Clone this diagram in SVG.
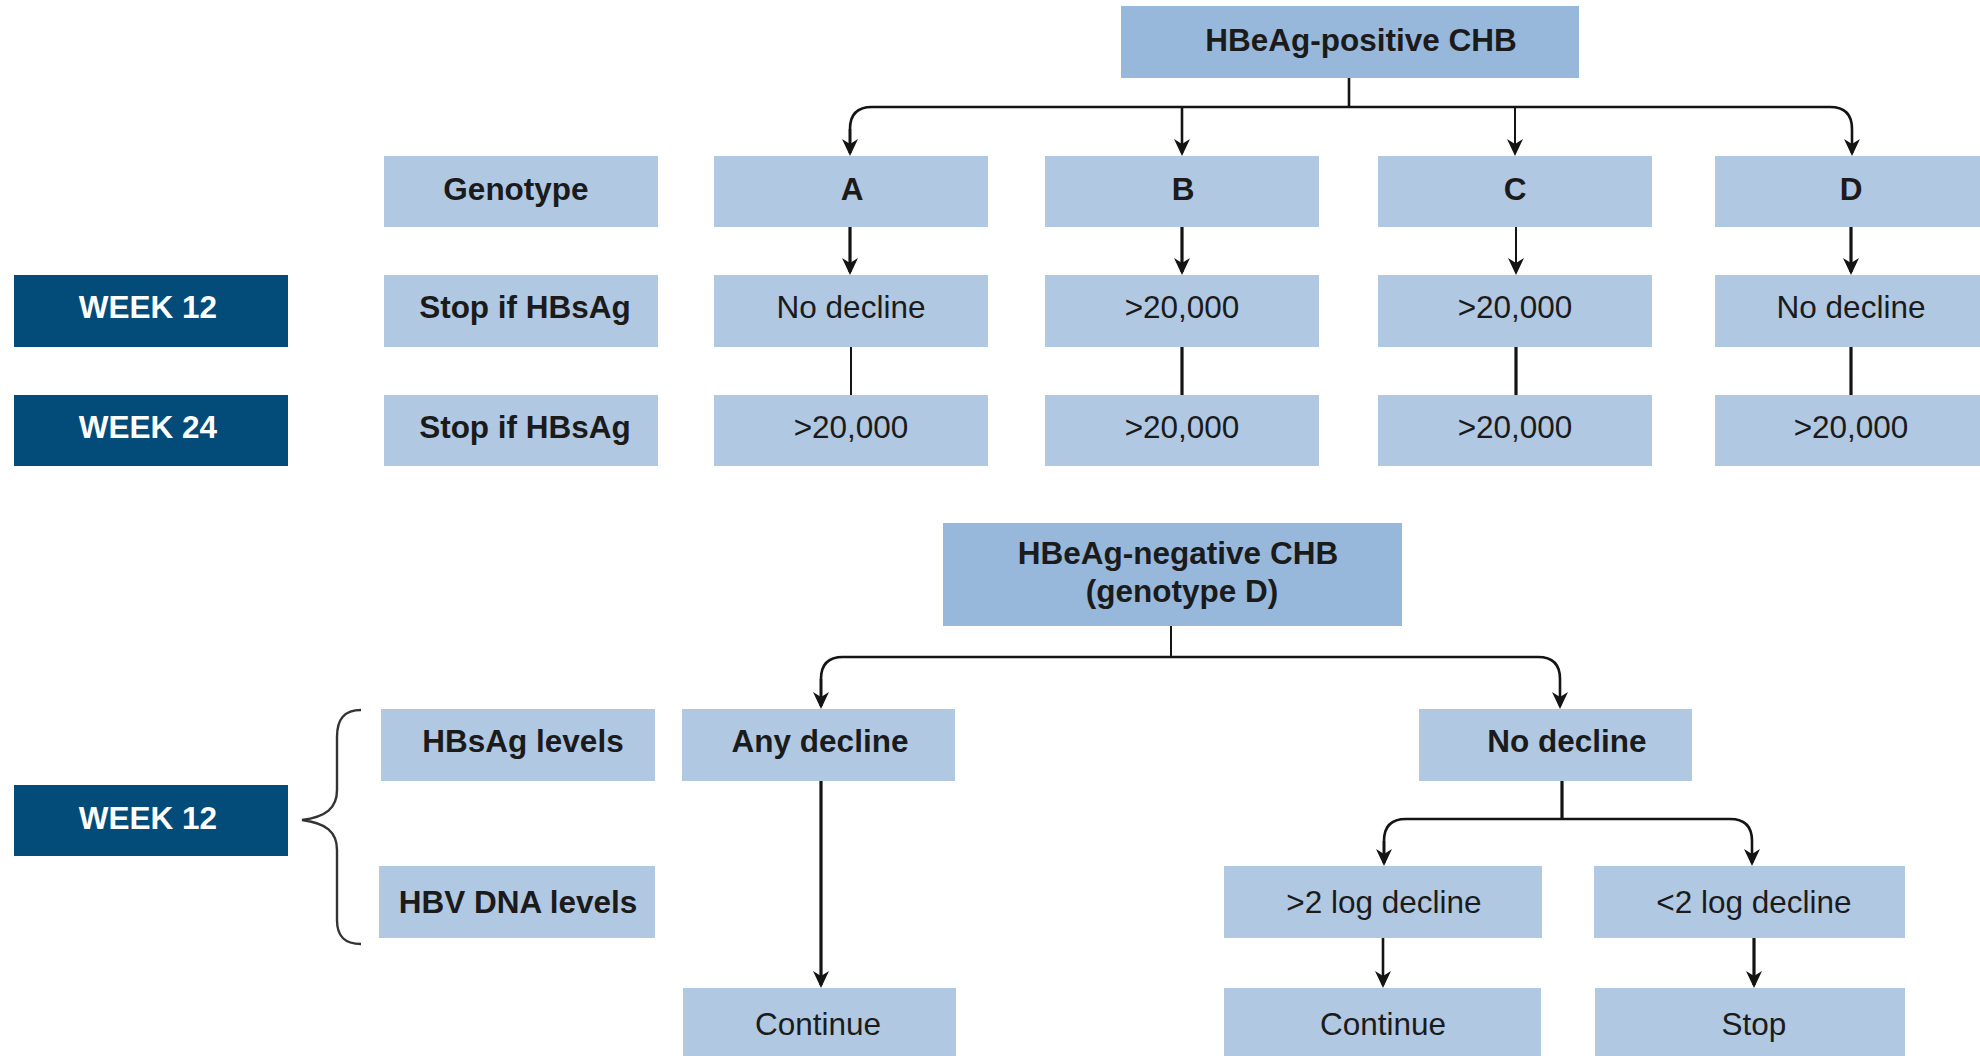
<svg xmlns="http://www.w3.org/2000/svg" width="1980" height="1056" viewBox="0 0 1980 1056">
<style>
  .lt { fill: #B1C8E2; }
  .hd { fill: #97B8DA; }
  .dk { fill: #034B78; }
  text { font-family: "Liberation Sans", Arial, Helvetica, sans-serif; font-size: 31.5px; text-anchor: middle; fill: #1b1b1b; }
  .b { font-weight: bold; }
  .w { fill: #ffffff; font-weight: bold; }
  .c { fill: none; stroke: #141414; stroke-width: 2.6; }
  .t { stroke-width: 2; }
  .k { stroke-width: 3.2; }
  .br { fill: none; stroke: #333333; stroke-width: 2.4; }
</style>
<defs>
  <marker id="ah" viewBox="-16 -9 20 18" markerWidth="20" markerHeight="18" refX="0" refY="0" orient="auto" markerUnits="userSpaceOnUse">
    <polygon points="3,0 -14,-8 -9,0 -14,8" fill="#141414"/>
  </marker>
</defs>

<rect width="1980" height="1056" fill="#ffffff"/>

<!-- top section nodes -->
<g id="hbeag-pos"><rect class="hd" x="1121" y="6" width="458" height="72"/><text class="b" x="1361" y="51">HBeAg-positive CHB</text></g>

<g id="genotype"><rect class="lt" x="384" y="156" width="274" height="71"/><text class="b" x="516" y="200">Genotype</text></g>
<g id="gA"><rect class="lt" x="714" y="156" width="274" height="71"/><text class="b" x="852" y="200">A</text></g>
<g id="gB"><rect class="lt" x="1045" y="156" width="274" height="71"/><text class="b" x="1183" y="200">B</text></g>
<g id="gC"><rect class="lt" x="1378" y="156" width="274" height="71"/><text class="b" x="1515" y="200">C</text></g>
<g id="gD"><rect class="lt" x="1715" y="156" width="274" height="71"/><text class="b" x="1851" y="200">D</text></g>

<g id="week12a"><rect class="dk" x="14" y="275" width="274" height="72"/><text class="w" x="148" y="318">WEEK 12</text></g>
<g id="stop12"><rect class="lt" x="384" y="275" width="274" height="72"/><text class="b" x="525" y="318">Stop if HBsAg</text></g>
<g id="a12"><rect class="lt" x="714" y="275" width="274" height="72"/><text x="851" y="318">No decline</text></g>
<g id="b12"><rect class="lt" x="1045" y="275" width="274" height="72"/><text x="1182" y="318">&gt;20,000</text></g>
<g id="c12"><rect class="lt" x="1378" y="275" width="274" height="72"/><text x="1515" y="318">&gt;20,000</text></g>
<g id="d12"><rect class="lt" x="1715" y="275" width="274" height="72"/><text x="1851" y="318">No decline</text></g>

<g id="week24"><rect class="dk" x="14" y="395" width="274" height="71"/><text class="w" x="148" y="438">WEEK 24</text></g>
<g id="stop24"><rect class="lt" x="384" y="395" width="274" height="71"/><text class="b" x="525" y="438">Stop if HBsAg</text></g>
<g id="a24"><rect class="lt" x="714" y="395" width="274" height="71"/><text x="851" y="438">&gt;20,000</text></g>
<g id="b24"><rect class="lt" x="1045" y="395" width="274" height="71"/><text x="1182" y="438">&gt;20,000</text></g>
<g id="c24"><rect class="lt" x="1378" y="395" width="274" height="71"/><text x="1515" y="438">&gt;20,000</text></g>
<g id="d24"><rect class="lt" x="1715" y="395" width="274" height="71"/><text x="1851" y="438">&gt;20,000</text></g>

<!-- bottom section nodes -->
<g id="hbeag-neg"><rect class="hd" x="943" y="523" width="459" height="103"/><text class="b" x="1178" y="564">HBeAg-negative CHB</text><text class="b" x="1182" y="602">(genotype D)</text></g>

<g id="hbsag-levels"><rect class="lt" x="381" y="709" width="274" height="72"/><text class="b" x="523" y="752">HBsAg levels</text></g>
<g id="hbv-dna"><rect class="lt" x="379" y="866" width="276" height="72"/><text class="b" x="518" y="913">HBV DNA levels</text></g>
<g id="week12b"><rect class="dk" x="14" y="785" width="274" height="71"/><text class="w" x="148" y="829">WEEK 12</text></g>
<g id="any-decline"><rect class="lt" x="682" y="709" width="273" height="72"/><text class="b" x="820" y="752">Any decline</text></g>
<g id="no-decline"><rect class="lt" x="1419" y="709" width="273" height="72"/><text class="b" x="1567" y="752">No decline</text></g>
<g id="gt2"><rect class="lt" x="1224" y="866" width="318" height="72"/><text x="1384" y="913">&gt;2 log decline</text></g>
<g id="lt2"><rect class="lt" x="1594" y="866" width="311" height="72"/><text x="1754" y="913">&lt;2 log decline</text></g>
<g id="continue1"><rect class="lt" x="683" y="988" width="273" height="72"/><text x="818" y="1035">Continue</text></g>
<g id="continue2"><rect class="lt" x="1224" y="988" width="317" height="72"/><text x="1383" y="1035">Continue</text></g>
<g id="stop"><rect class="lt" x="1595" y="988" width="310" height="72"/><text x="1754" y="1035">Stop</text></g>

<!-- brace -->
<path class="br" d="M 361 710 C 345 710 337 718 337 737 L 337 790 C 337 808 326 817 302 820 C 326 823 337 832 337 850 L 337 920 C 337 937 345 944 361 944"/>

<!-- connectors -->
<g id="connectors">
  <path class="c" d="M 1349 78 L 1349 107"/>
  <path class="c" d="M 850 153 L 850 129 Q 850 107 872 107 L 1830 107 Q 1852 107 1852 129 L 1852 153" marker-end="url(#ah)"/>
  <path class="c" d="M 850 129 L 850 153" marker-end="url(#ah)"/>
  <path class="c" d="M 1182 107 L 1182 153" marker-end="url(#ah)"/>
  <path class="c t" d="M 1515 107 L 1515 153" marker-end="url(#ah)"/>

  <path class="c k" d="M 850 227 L 850 272" marker-end="url(#ah)"/>
  <path class="c k" d="M 1182 227 L 1182 272" marker-end="url(#ah)"/>
  <path class="c t" d="M 1516 227 L 1516 272" marker-end="url(#ah)"/>
  <path class="c k" d="M 1851 227 L 1851 272" marker-end="url(#ah)"/>

  <path class="c t" d="M 851 347 L 851 395"/>
  <path class="c k" d="M 1182 347 L 1182 395"/>
  <path class="c k" d="M 1516 347 L 1516 395"/>
  <path class="c k" d="M 1851 347 L 1851 395"/>

  <path class="c t" d="M 1171 626 L 1171 657"/>
  <path class="c" d="M 821 706 L 821 679 Q 821 657 843 657 L 1538 657 Q 1560 657 1560 679 L 1560 706" marker-end="url(#ah)"/>
  <path class="c" d="M 821 679 L 821 706" marker-end="url(#ah)"/>

  <path class="c k" d="M 821 781 L 821 985" marker-end="url(#ah)"/>

  <path class="c k" d="M 1562 781 L 1562 819"/>
  <path class="c" d="M 1384 863 L 1384 841 Q 1384 819 1406 819 L 1730 819 Q 1752 819 1752 841 L 1752 863" marker-end="url(#ah)"/>
  <path class="c" d="M 1384 841 L 1384 863" marker-end="url(#ah)"/>

  <path class="c" d="M 1383 938 L 1383 985" marker-end="url(#ah)"/>
  <path class="c k" d="M 1754 938 L 1754 985" marker-end="url(#ah)"/>
</g>
</svg>
